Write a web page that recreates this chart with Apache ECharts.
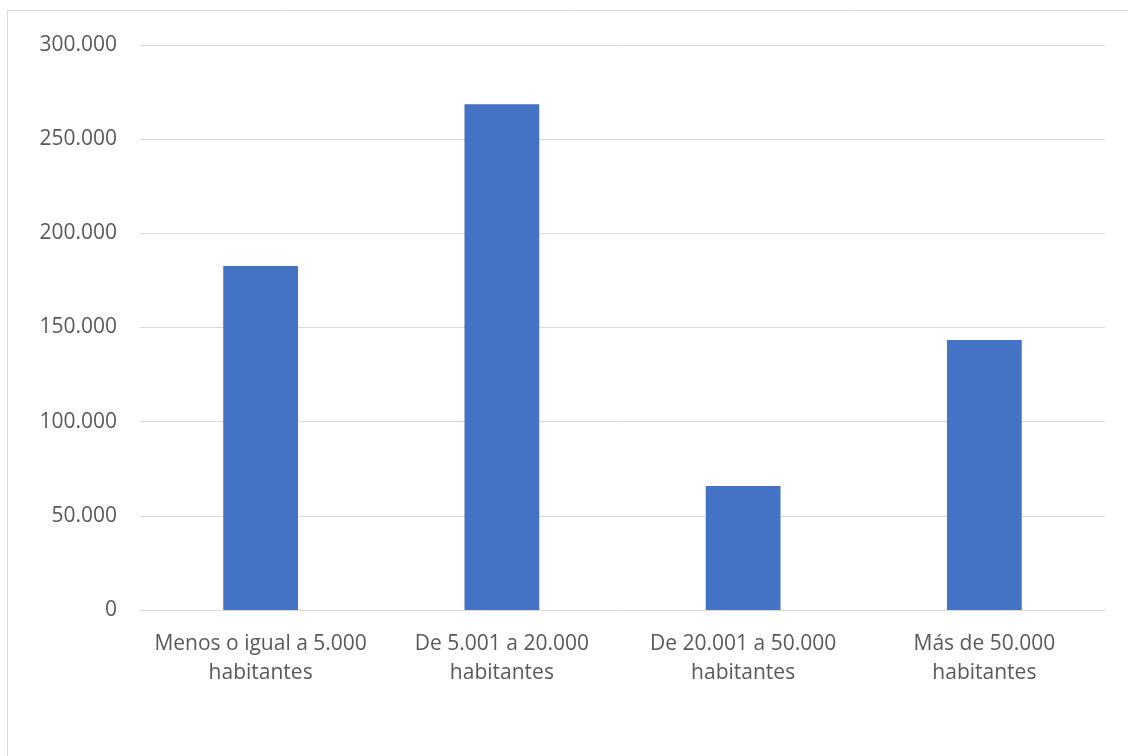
<!DOCTYPE html>
<html>
<head>
<meta charset="utf-8">
<script src="https://cdn.jsdelivr.net/npm/echarts@6/dist/echarts.min.js"></script>
<style>html,body{margin:0;padding:0;background:#fff}#c{width:1128px;height:756px}</style>
</head>
<body>
<div id="c"></div>
<script>
var categories = ['Menos o igual a 5.000\nhabitantes', 'De 5.001 a 20.000\nhabitantes', 'De 20.001 a 50.000\nhabitantes', 'Más de 50.000\nhabitantes'];
var values = [182600, 268500, 65800, 143400];
var yTicks = [0, 50000, 100000, 150000, 200000, 250000, 300000];

function fmt(v) {
  return String(v).replace(/\B(?=(\d{3})+(?!\d))/g, '.');
}

var chart = echarts.init(document.getElementById('c'));
chart.setOption({
  animation: false,
  graphic: [{
    type: 'rect',
    shape: { x: 7.5, y: 10.5, width: 1200, height: 800 },
    style: { fill: 'none', stroke: '#d9d9d9', lineWidth: 1 }
  }],
  grid: { left: 140, right: 23, top: 45, bottom: 146, containLabel: false },
  xAxis: {
    type: 'category',
    data: categories,
    axisLine: { lineStyle: { color: '#d9d9d9', width: 1 } },
    axisTick: { show: false },
    axisLabel: { color: '#595959', fontFamily: 'Open Sans', fontSize: 21, lineHeight: 29, margin: 20, interval: 0 }
  },
  yAxis: {
    type: 'value',
    min: yTicks[0],
    max: yTicks[yTicks.length - 1],
    interval: 50000,
    axisLine: { show: false },
    axisTick: { show: false },
    splitLine: { lineStyle: { color: '#d9d9d9', width: 1 } },
    axisLabel: { color: '#595959', fontFamily: 'Open Sans', fontSize: 21, margin: 23, formatter: fmt }
  },
  series: [{
    type: 'bar',
    data: values,
    barWidth: '31%',
    itemStyle: { color: '#4472c4' }
  }]
});
</script>
</body>
</html>
